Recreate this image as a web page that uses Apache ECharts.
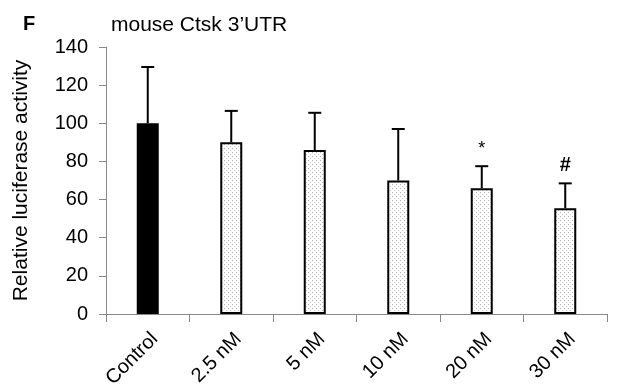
<!DOCTYPE html>
<html><head><meta charset="utf-8">
<script src="https://cdn.jsdelivr.net/npm/echarts@6/dist/echarts.min.js"></script>
<style>html,body{margin:0;padding:0;background:#fff}#c{width:626px;height:392px}</style>
</head><body><div id="c"></div>
<script>
var categories = ['Control', '2.5 nM', '5 nM', '10 nM', '20 nM', '30 nM'];
var means = [100, 90, 86, 70, 66, 55.5];
var errors = [29.5, 16.5, 19.5, 27, 11.5, 13];
var marks = ['', '', '', '', '*', '#'];
var yTicks = [0, 20, 40, 60, 80, 100, 120, 140];

var pc = document.createElement('canvas');
pc.width = 4; pc.height = 4;
var g = pc.getContext('2d');
g.fillStyle = '#ffffff'; g.fillRect(0, 0, 4, 4);
g.fillStyle = '#b0b0b0'; g.fillRect(0, 0, 1, 1);
g.fillStyle = '#c8c8c8'; g.fillRect(2, 2, 1, 1);

var chart = echarts.init(document.getElementById('c'), null, {renderer: 'canvas'});
var font = 'Liberation Sans, Arial, sans-serif';
chart.setOption({
  animation: false,
  grid: {left: 106, right: 19, top: 47, bottom: 78, containLabel: false},
  title: [
    {text: 'F', left: 18, top: 9, textStyle: {fontFamily: font, fontWeight: 'bold', fontSize: 20, color: '#000'}},
    {text: 'mouse Ctsk 3\u2019UTR', left: 106, top: 10, textStyle: {fontFamily: font, fontWeight: 'normal', fontSize: 21, color: '#000'}}
  ],
  xAxis: {
    type: 'category', data: categories,
    axisLine: {lineStyle: {color: '#888', width: 1}},
    axisTick: {show: true, length: 8, lineStyle: {color: '#888'}, alignWithLabel: false},
    axisLabel: {rotate: 45, fontFamily: font, fontSize: 20, color: '#000', margin: 15, verticalAlign: 'top'}
  },
  yAxis: {
    type: 'value', min: 0, max: 140, interval: 20,
    name: 'Relative luciferase activity', nameLocation: 'middle', nameGap: 74,
    nameTextStyle: {fontFamily: font, fontSize: 21, color: '#000'},
    splitLine: {show: false},
    axisLine: {show: true, lineStyle: {color: '#888'}},
    axisTick: {show: true, length: 7, lineStyle: {color: '#888'}},
    axisLabel: {fontFamily: font, fontSize: 20, color: '#000', margin: 18,
      formatter: function (v) { return yTicks.indexOf(v) >= 0 ? String(v) : ''; }}
  },
  series: [
    {
      type: 'bar', barWidth: 22, z: 2,
      data: means.map(function (v, i) {
        return {value: v, itemStyle: i === 0
          ? {color: '#000', borderColor: '#000', borderWidth: 2}
          : {color: {image: pc, repeat: 'repeat'}, borderColor: '#000', borderWidth: 2}};
      })
    },
    {
      type: 'custom', z: 3,
      data: means.map(function (v, i) { return [i, v, errors[i], marks[i]]; }),
      renderItem: function (params, api) {
        var i = api.value(0), m = api.value(1), e = api.value(2);
        var p0 = api.coord([i, m]);
        var p1 = api.coord([i, m + e]);
        var hw = 6.5;
        var children = [
          {type: 'line', shape: {x1: p0[0], y1: p0[1], x2: p1[0], y2: p1[1]}, style: {stroke: '#000', lineWidth: 2}},
          {type: 'line', shape: {x1: p1[0] - hw, y1: p1[1], x2: p1[0] + hw, y2: p1[1]}, style: {stroke: '#000', lineWidth: 2}}
        ];
        var mk = marks[params.dataIndex];
        if (mk) {
          children.push({type: 'text', x: p1[0], y: p1[1] - 8,
            style: {text: mk, fill: '#000', font: (mk === '*' ? '18px ' : 'bold 20px ') + font, align: 'center', verticalAlign: 'bottom'}});
        }
        return {type: 'group', children: children};
      }
    }
  ]
});
</script></body></html>
